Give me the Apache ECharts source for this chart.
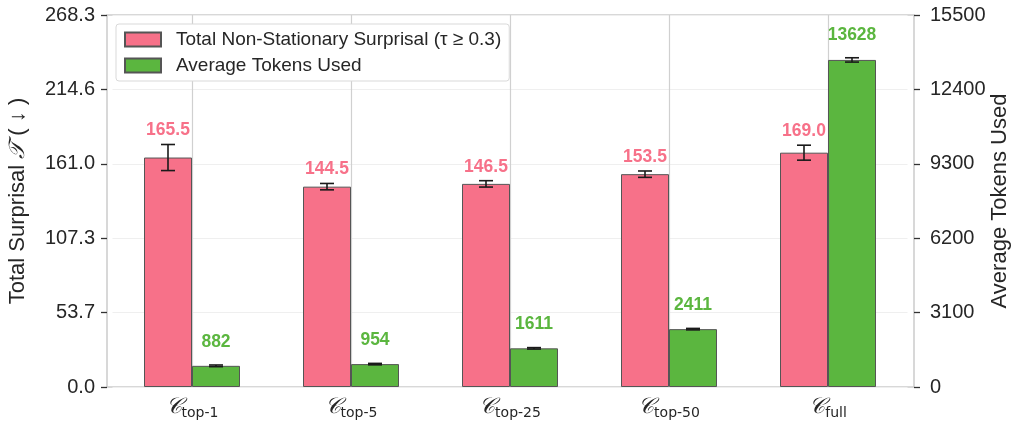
<!DOCTYPE html>
<html>
<head>
<meta charset="utf-8">
<script src="https://cdn.jsdelivr.net/npm/echarts@6/dist/echarts.min.js"></script>
<style>
html, body { margin: 0; padding: 0; background: #fff; }
#chart { width: 1013px; height: 422px; }
</style>
</head>
<body>
<div id="chart"></div>
<script>
// data
var categories = ['top-1', 'top-5', 'top-25', 'top-50', 'full'];
var surprisal = [165.5, 144.5, 146.5, 153.5, 169.0];
var surprisalErr = [9.4, 2.3, 2.3, 2.3, 5.4];
var tokens = [882, 954, 1611, 2411, 13628];
var tokensErr = [35, 30, 30, 30, 90];
var leftMax = 268.3;
var rightMax = 15500;

var PINK = '#f77189';
var GREEN = '#5bb63f';
var FONT = '"Liberation Sans", Arial, sans-serif';
var BAR_W = 48;

function errRender(shift, gap, color, fmt) {
    return function (params, api) {
        var i = api.value(0), v = api.value(1), e = api.value(2);
        var top = api.coord([i, v + e]);
        var bot = api.coord([i, v - e]);
        var x = top[0] + shift;
        var cap = 7;
        var st = {stroke: '#1a1a1a', lineWidth: 1.6};
        return {
            type: 'group',
            children: [
                {type: 'line', shape: {x1: x, y1: top[1], x2: x, y2: bot[1]}, style: st},
                {type: 'line', shape: {x1: x - cap, y1: top[1], x2: x + cap, y2: top[1]}, style: st},
                {type: 'line', shape: {x1: x - cap, y1: bot[1], x2: x + cap, y2: bot[1]}, style: st},
                {
                    type: 'text',
                    style: {
                        text: fmt(v), x: x, y: top[1] - gap,
                        align: 'center', verticalAlign: 'bottom',
                        fill: color, font: 'bold 17.5px ' + FONT
                    }
                }
            ]
        };
    };
}

function rows(vals, errs) {
    return vals.map(function (v, i) { return [i, v, errs[i]]; });
}

var myChart = echarts.init(document.getElementById('chart'));

var tickStyle = {show: true, inside: false, length: 6, lineStyle: {color: '#333', width: 1.3}};

option = {
    animation: false,
    backgroundColor: '#fff',
    grid: [
        // bars
        {left: 112.5, right: 105.5, top: 15, bottom: 35, outerBoundsMode: 'none'},
        // frame box with the visible y axes
        {left: 107, right: 99, top: 15, bottom: 35, outerBoundsMode: 'none', show: true, borderColor: '#cccccc', borderWidth: 1.5, backgroundColor: 'transparent'}
    ],
    legend: {
        orient: 'vertical',
        left: 116,
        top: 24,
        padding: [6, 8, 6, 8],
        itemGap: 7,
        itemWidth: 36,
        itemHeight: 14,
        backgroundColor: '#fff',
        borderColor: '#d9d9d9',
        borderWidth: 1,
        borderRadius: 3,
        textStyle: {fontFamily: FONT, fontSize: 19, color: '#262626', padding: [0, 0, 0, 10]},
        data: [
            {name: 'Total Non-Stationary Surprisal (\u03c4 \u2265 0.3)', icon: 'rect'},
            {name: 'Average Tokens Used', icon: 'rect'}
        ]
    },
    xAxis: [
        {
            type: 'category',
            gridIndex: 0,
            data: categories,
            axisLine: {show: false},
            axisTick: {show: false},
            splitLine: {show: true, alignWithLabel: true, lineStyle: {color: '#d0d0d0', width: 1.2}},
            axisLabel: {
                margin: 7,
                formatter: function (v) { return '{c|\ud835\udc9e}{s|' + v + '}'; },
                rich: {
                    c: {fontFamily: '"DejaVu Serif"', fontStyle: 'italic', fontSize: 22, color: '#262626', lineHeight: 26},
                    s: {fontFamily: '"DejaVu Sans"', fontSize: 14, color: '#262626', verticalAlign: 'bottom', lineHeight: 14}
                }
            }
        },
        {type: 'category', gridIndex: 1, data: categories, show: false}
    ],
    yAxis: [
        {
            type: 'value', gridIndex: 0, min: 0, max: leftMax, interval: leftMax / 5,
            axisLine: {show: false}, axisTick: {show: false}, axisLabel: {show: false},
            splitLine: {show: true, lineStyle: {color: '#efefef', width: 1.2}}
        },
        {
            type: 'value', gridIndex: 0, min: 0, max: rightMax, interval: 3100, position: 'right',
            axisLine: {show: false}, axisTick: {show: false}, axisLabel: {show: false},
            splitLine: {show: false}
        },
        {
            type: 'value',
            gridIndex: 1,
            min: 0,
            max: leftMax,
            interval: leftMax / 5,
            name: '{a|Total Surprisal }{t|\ud835\udcaf}{a| ( \u2193 )}',
            nameLocation: 'middle',
            nameGap: 78,
            nameMoveOverlap: false,
            nameTextStyle: {
                rich: {
                    a: {fontFamily: FONT, fontSize: 22, color: '#262626'},
                    t: {fontFamily: '"DejaVu Serif"', fontStyle: 'italic', fontSize: 22, color: '#262626'}
                }
            },
            axisLine: {show: false},
            axisTick: tickStyle,
            axisLabel: {
                margin: 12, fontFamily: FONT, fontSize: 20, color: '#262626',
                formatter: function (v) { return v.toFixed(1); }
            },
            splitLine: {show: false}
        },
        {
            type: 'value',
            gridIndex: 1,
            min: 0,
            max: rightMax,
            interval: 3100,
            position: 'right',
            name: 'Average Tokens Used',
            nameLocation: 'middle',
            nameGap: 75,
            nameMoveOverlap: false,
            nameRotate: 90,
            nameTextStyle: {fontFamily: FONT, fontSize: 22, color: '#262626'},
            axisLine: {show: false},
            axisTick: tickStyle,
            axisLabel: {
                margin: 16, fontFamily: FONT, fontSize: 20, color: '#262626',
                formatter: function (v) { return String(v); }
            },
            splitLine: {show: false}
        }
    ],
    series: [
        {
            name: 'Total Non-Stationary Surprisal (\u03c4 \u2265 0.3)',
            type: 'bar',
            xAxisIndex: 0,
            yAxisIndex: 0,
            barWidth: BAR_W,
            barGap: '0%',
            data: surprisal,
            itemStyle: {color: PINK, borderColor: '#555', borderWidth: 1}
        },
        {
            name: 'Average Tokens Used',
            type: 'bar',
            xAxisIndex: 0,
            yAxisIndex: 1,
            barWidth: BAR_W,
            barGap: '0%',
            data: tokens,
            itemStyle: {color: GREEN, borderColor: '#555', borderWidth: 1}
        },
        {
            type: 'custom',
            xAxisIndex: 0,
            yAxisIndex: 0,
            z: 5,
            renderItem: errRender(-BAR_W / 2, 5, PINK, function (v) { return v.toFixed(1); }),
            data: rows(surprisal, surprisalErr)
        },
        {
            type: 'custom',
            xAxisIndex: 0,
            yAxisIndex: 1,
            z: 5,
            renderItem: errRender(BAR_W / 2, 14, GREEN, function (v) { return String(v); }),
            data: rows(tokens, tokensErr)
        }
    ]
};

myChart.setOption(option);
</script>
</body>
</html>
